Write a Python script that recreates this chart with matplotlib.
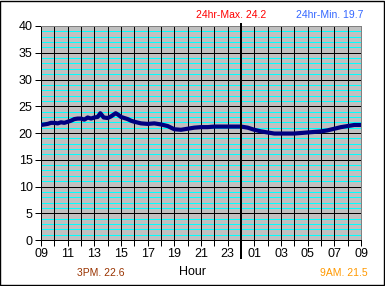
import matplotlib
matplotlib.use("Agg")
import matplotlib.pyplot as plt
from matplotlib.patches import Rectangle

plt.rcParams['font.family'] = ['Liberation Sans', 'DejaVu Sans']

# hours since midnight of day 1 (09 -> 33 = 09 next day)
hours = [9.0, 9.25, 9.5, 9.75, 10.0, 10.25, 10.5, 10.75, 11.0, 11.25, 11.5, 11.75,
         12.0, 12.25, 12.5, 12.75, 13.0, 13.25, 13.45, 13.7, 14.0, 14.25, 14.6, 14.8,
         15.0, 15.25, 15.5, 15.75, 16.0, 16.5, 17.0, 17.5, 18.0, 18.5, 19.0, 19.5,
         20.0, 20.5, 21.0, 21.5, 22.0, 22.5, 23.0, 23.5, 24.0, 24.5, 25.0, 25.5,
         26.0, 26.5, 27.0, 27.5, 28.0, 28.5, 29.0, 29.5, 30.0, 30.5, 31.0, 31.5,
         32.0, 32.5, 33.0]
temps = [21.5, 21.6, 21.7, 21.9, 21.9, 21.8, 22.0, 21.9, 22.1, 22.3, 22.6, 22.7,
         22.7, 22.5, 22.9, 22.7, 22.9, 23.0, 23.7, 22.9, 22.8, 23.1, 23.7, 23.4,
         23.0, 22.8, 22.6, 22.3, 22.1, 21.8, 21.7, 21.8, 21.6, 21.3, 20.7, 20.6,
         20.8, 21.0, 21.1, 21.1, 21.2, 21.2, 21.2, 21.2, 21.2, 21.0, 20.6, 20.3,
         20.1, 19.9, 19.9, 19.9, 19.9, 20.0, 20.1, 20.2, 20.3, 20.5, 20.8, 21.1,
         21.3, 21.5, 21.5]
xtick_pos = list(range(9, 34, 2))
xtick_labels = ["09", "11", "13", "15", "17", "19", "21", "23", "01", "03", "05", "07", "09"]
yticks = [0, 5, 10, 15, 20, 25, 30, 35, 40]

px = 72 / 100  # one pixel in points

fig = plt.figure(figsize=(3.85, 2.86), dpi=100)
ax = fig.add_axes([0.1065, 0.1608, 0.8312, 0.7483])
ax.set_facecolor("#c0c0c0")

# cyan minor lines every 1 unit, black every 5
for v in range(1, 40):
    if v % 5:
        ax.axhline(v, color="#00ffff", lw=px, zorder=1)
for v in yticks[1:-1]:
    ax.axhline(v, color="black", lw=px, zorder=1.5)
for h in range(10, 33):
    ax.axvline(h, color="black", lw=px, zorder=1.5)

ax.plot(hours, temps, color="#000080", lw=3.0, zorder=3)

# midnight marker, sticks out a little past the plot
ax.plot([24, 24], [-3.4, 40.4], color="black", lw=2 * px, zorder=4, clip_on=False)

ax.set_xlim(9, 33)
ax.set_ylim(0, 40)
ax.set_xticks(xtick_pos)
ax.set_xticklabels(xtick_labels)
ax.set_yticks(yticks)
ax.tick_params(axis="both", length=4, width=px, labelsize=9, color="black")
ax.tick_params(axis="x", pad=2)
ax.tick_params(axis="y", pad=2)
ax.set_xticks(range(9, 34), minor=True)
ax.tick_params(axis="x", which="minor", length=4, width=px)

for side in ["left", "bottom"]:
    ax.spines[side].set_color("black")
    ax.spines[side].set_linewidth(px)
for side in ["top", "right"]:
    ax.spines[side].set_color("#808080")
    ax.spines[side].set_linewidth(px)

fig.text(231 / 385, 1 - 15 / 286, "24hr-Max. 24.2", color="#ff0000", fontsize=7.5,
         ha="center", va="center")
fig.text(363 / 385, 1 - 15 / 286, "24hr-Min. 19.7", color="#3366ff", fontsize=7.5,
         ha="right", va="center")
fig.text(101 / 385, 1 - 273 / 286, "3PM. 22.6", color="#993300", fontsize=7.5,
         ha="center", va="center")
fig.text(193 / 385, 1 - 272 / 286, "Hour", color="black", fontsize=9,
         ha="center", va="center")
fig.text(368 / 385, 1 - 273 / 286, "9AM. 21.5", color="#ff9900", fontsize=7.5,
         ha="right", va="center")

fig.patches.append(Rectangle((0.001, 0.003), 0.996, 0.994, transform=fig.transFigure,
                             fill=False, edgecolor="black", lw=1.0))

fig.savefig("out.png", dpi=100)
